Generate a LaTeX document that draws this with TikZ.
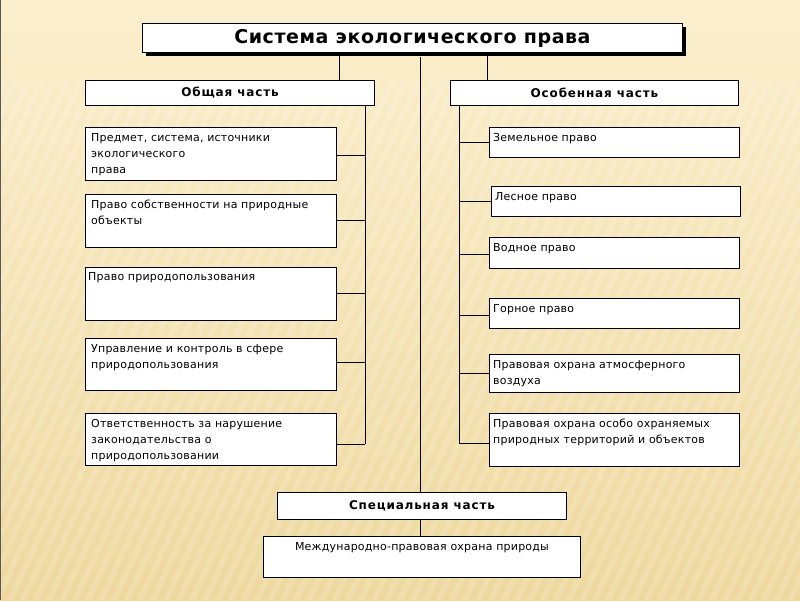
\documentclass[tikz,border=0pt]{standalone}
\usepackage{fontspec}
\setmainfont{DejaVu Sans}
\begin{document}
\begin{tikzpicture}[x=1pt,y=-1pt,
  box/.style={draw=black,line width=0.9pt,fill=white,inner sep=0pt,anchor=north west},
  txt/.style={inner sep=0pt,anchor=north west,align=left,font=\fontsize{11}{16}\selectfont\addfontfeature{LetterSpace=2}},
  head/.style={font=\bfseries\fontsize{12}{14}\selectfont\addfontfeature{LetterSpace=7},inner sep=0pt},
  conn/.style={draw=black,line width=1pt}]
\useasboundingbox (0,0) rectangle (800,600);
% background
\begin{scope}
\clip (0,0) rectangle (800,600);
\shade[top color={rgb,255:red,251;green,239;blue,205},bottom color={rgb,255:red,238;green,216;blue,158}] (0,0) rectangle (800,600);
\foreach \i in {0,...,80} {
  \fill[white,opacity=0.16] (\i*13-240,600) -- ++(6,0) -- ++(240,-520) -- ++(-6,0) -- cycle;
}
\draw[gray!70!black,line width=1pt] (0.5,0) -- (0.5,600);
\end{scope}

% title
\fill[black] (146,27) rectangle (686,56);
\node[box,minimum width=540,minimum height=29] (title) at (142,23) {};
\node[font=\bfseries\fontsize{19}{21}\selectfont\addfontfeature{LetterSpace=3},inner sep=0pt] at (title.center) {Система экологического права};

% parts
\node[box,minimum width=289,minimum height=25] (obsh) at (85,80) {};
\node[head] at (obsh.center) {Общая часть};
\node[box,minimum width=288,minimum height=25] (osob) at (450,80) {};
\node[head] at (osob.center) {Особенная часть};

% left boxes
\node[box,minimum width=251,minimum height=53] (L1) at (85,127) {};
\node[txt] at ([shift={(6,6)}]L1.north west) {Предмет, система, источники\\экологического\\права};
\node[box,minimum width=251,minimum height=53] (L2) at (85,194) {};
\node[txt] at ([shift={(6,6)}]L2.north west) {Право собственности на природные\\объекты};
\node[box,minimum width=251,minimum height=53] (L3) at (85,267) {};
\node[txt] at ([shift={(3,5)}]L3.north west) {Право природопользования};
\node[box,minimum width=251,minimum height=52] (L4) at (85,338) {};
\node[txt] at ([shift={(6,6)}]L4.north west) {Управление и контроль в сфере\\природопользования};
\node[box,minimum width=251,minimum height=52] (L5) at (85,413) {};
\node[txt] at ([shift={(6,6)}]L5.north west) {Ответственность за нарушение\\законодательства о\\природопользовании};

% right boxes
\node[box,minimum width=250,minimum height=30] (R1) at (489,127) {};
\node[txt] at ([shift={(4,6)}]R1.north west) {Земельное право};
\node[box,minimum width=249,minimum height=30] (R2) at (491,186) {};
\node[txt] at ([shift={(4,6)}]R2.north west) {Лесное право};
\node[box,minimum width=250,minimum height=31] (R3) at (489,237) {};
\node[txt] at ([shift={(4,6)}]R3.north west) {Водное право};
\node[box,minimum width=250,minimum height=30] (R4) at (489,298) {};
\node[txt] at ([shift={(4,6)}]R4.north west) {Горное право};
\node[box,minimum width=250,minimum height=38] (R5) at (489,354) {};
\node[txt] at ([shift={(4,6)}]R5.north west) {Правовая охрана атмосферного\\воздуха};
\node[box,minimum width=250,minimum height=53] (R6) at (489,413) {};
\node[txt] at ([shift={(4,6)}]R6.north west) {Правовая охрана особо охраняемых\\природных территорий и объектов};

% special
\node[box,minimum width=289,minimum height=27] (spec) at (277,492) {};
\node[head] at (spec.center) {Специальная часть};
\node[box,minimum width=317,minimum height=41] (intl) at (263,536) {};
\node[font=\fontsize{11}{16}\selectfont\addfontfeature{LetterSpace=2},inner sep=0pt,anchor=north] at ([yshift=-6]intl.north) {Международно-правовая охрана природы};

% connectors
\coordinate (tl) at (339,0);
\coordinate (tr) at (487,0);
\coordinate (tm) at (420,57);
\coordinate (trunkL) at (365,0);
\coordinate (trunkR) at (459,0);
\draw[conn] (title.south -| tl) -- (obsh.north -| tl);
\draw[conn] (title.south -| tr) -- (osob.north -| tr);
\draw[conn] (tm) -- (spec.north -| tm);
\draw[conn] (spec.south -| tm) -- (intl.north -| tm);

\draw[conn] (obsh.south -| trunkL) -- ([yshift=-5]trunkL |- L5.east);
\draw[conn] ([yshift=-2]L1.east) -- ([yshift=-2]L1.east -| trunkL);
\draw[conn] (L2.east) -- (L2.east -| trunkL);
\draw[conn] (L3.east) -- (L3.east -| trunkL);
\draw[conn] ([yshift=2]L4.east) -- ([yshift=2]L4.east -| trunkL);
\draw[conn] ([yshift=-5]L5.east) -- ([yshift=-5]L5.east -| trunkL);

\draw[conn] (osob.south -| trunkR) -- ([yshift=-4]trunkR |- R6.west);
\draw[conn] (R1.west) -- (R1.west -| trunkR);
\draw[conn] (R2.west) -- (R2.west -| trunkR);
\draw[conn] ([yshift=-2]R3.west) -- ([yshift=-2]R3.west -| trunkR);
\draw[conn] ([yshift=-2]R4.west) -- ([yshift=-2]R4.west -| trunkR);
\draw[conn] (R5.west) -- (R5.west -| trunkR);
\draw[conn] ([yshift=-4]R6.west) -- ([yshift=-4]R6.west -| trunkR);
\end{tikzpicture}
\end{document}
